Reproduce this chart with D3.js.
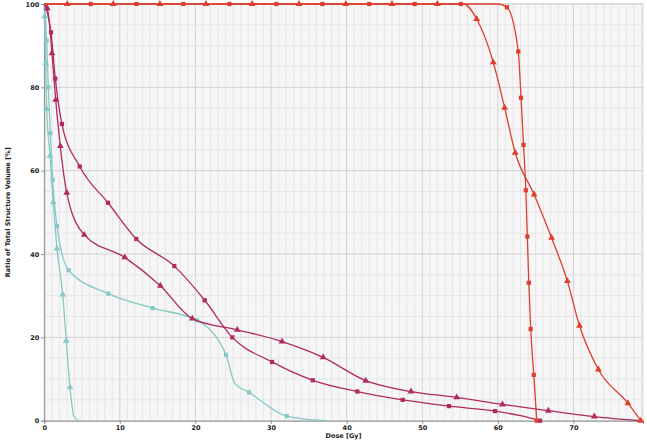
<!DOCTYPE html>
<html>

<head>
    <style>
        body { margin: 0; background: #fff; }
        .tick-label { font-family: "DejaVu Sans"; font-weight: bold; font-size: 6.5px; fill: #222; }
        .axis-title { font-family: "DejaVu Sans"; font-weight: bold; font-size: 6.5px; fill: #222; }
        .curve { fill: none; stroke-width: 1.3; }
    </style>
</head>

<body>
    <svg id="container" height="441" width="647">
        <g id="body"></g>
    </svg>
</body>
<script src="https://d3js.org/d3.v7.min.js"></script>

<script>
    // [dose Gy, volume %, marker drawn? 1/0]
    let redSquares = [
        [0, 100, 0], [6.15, 100, 1], [12.2, 100, 1], [18.4, 100, 1], [24.5, 100, 1], [30.7, 100, 1],
        [36.8, 100, 1], [43.0, 100, 1], [49.0, 100, 1], [55.1, 100, 1], [60.0, 100, 0],
        [61.2, 99.2, 1], [62.7, 88.6, 1], [63.07, 77.5, 1], [63.4, 66.2, 1], [63.7, 55.3, 1],
        [63.9, 44.2, 1], [64.1, 33.1, 1], [64.35, 22.0, 1], [64.75, 11.0, 1], [65.15, 0, 1]
    ];
    let redTriangles = [
        [0, 100, 0], [3.06, 100, 1], [9.14, 100, 1], [15.3, 100, 1], [21.4, 100, 1], [27.5, 100, 1],
        [33.7, 100, 1], [39.9, 100, 1], [46.0, 100, 1], [52.0, 100, 1], [55.5, 100, 0],
        [57.2, 96.4, 1], [59.4, 86.0, 1], [60.9, 75.1, 1], [62.3, 64.3, 1], [64.8, 54.3, 1],
        [67.1, 43.9, 1], [69.2, 33.5, 1], [70.8, 22.8, 1], [73.3, 12.3, 1], [77.2, 4.2, 1], [78.9, 0, 1]
    ];
    let magentaSquares = [
        [0, 100, 0], [0.9, 93.2, 1], [1.47, 82.1, 1], [2.35, 71.2, 1], [4.7, 61.0, 1], [8.44, 52.3, 1],
        [12.18, 43.6, 1], [17.21, 37.1, 1], [21.23, 28.9, 1], [24.88, 20.0, 1], [30.13, 14.1, 1],
        [35.52, 9.7, 1], [41.42, 7.0, 1], [47.42, 5.0, 1], [53.54, 3.5, 1], [59.63, 2.3, 1],
        [63.0, 1.2, 0], [65.58, 0, 1]
    ];
    let magentaTriangles = [
        [0, 100, 0], [0.41, 99.0, 1], [1.03, 88.2, 1], [1.52, 77.0, 1], [2.13, 65.9, 1], [2.98, 54.7, 1],
        [5.3, 44.6, 1], [10.65, 39.2, 1], [15.36, 32.4, 1], [19.59, 24.5, 1], [25.54, 21.8, 1],
        [31.46, 19.0, 1], [36.9, 15.2, 1], [42.53, 9.6, 1], [48.52, 7.0, 1], [54.56, 5.6, 1],
        [60.6, 3.9, 1], [66.68, 2.4, 1], [72.76, 1.0, 1], [78.9, 0, 0]
    ];
    let tealSquares = [
        [0, 100, 0], [0.33, 91.2, 1], [0.54, 80.0, 1], [0.81, 69.0, 1], [1.12, 57.8, 1], [1.69, 46.7, 1],
        [3.24, 36.1, 1], [8.48, 30.5, 1], [14.35, 27.0, 1], [20.17, 24.1, 1], [24.05, 15.8, 1],
        [25.2, 9.0, 0], [27.09, 6.8, 1], [32.08, 1.1, 1], [37.3, 0, 0]
    ];
    let tealTriangles = [
        [0, 100, 0], [0.07, 97.0, 1], [0.2, 85.8, 1], [0.33, 74.8, 1], [0.77, 63.6, 1], [1.2, 52.4, 1],
        [1.69, 41.3, 1], [2.45, 30.3, 1], [2.92, 19.2, 1], [3.41, 8.0, 1], [3.94, 1.0, 0], [4.6, 0, 0]
    ];

    let series = [
        { name: "tealSquares", data: tealSquares, color: "#86c9c5", shape: "square" },
        { name: "tealTriangles", data: tealTriangles, color: "#86c9c5", shape: "triangle" },
        { name: "magentaSquares", data: magentaSquares, color: "#b02a62", shape: "square" },
        { name: "magentaTriangles", data: magentaTriangles, color: "#b02a62", shape: "triangle" },
        { name: "redSquares", data: redSquares, color: "#de3e2e", shape: "square" },
        { name: "redTriangles", data: redTriangles, color: "#de3e2e", shape: "triangle" }
    ];

    let xLabels = [0, 10, 20, 30, 40, 50, 60, 70];
    let yLabels = [0, 20, 40, 60, 80, 100];

    let margin = { top: 4, right: 4, bottom: 20.3, left: 44.2 };
    let width = 647, height = 441;
    let body = d3.select("#body");

    let xScale = d3.scaleLinear().domain([0, 79.2]).range([margin.left, width - margin.right]);
    let yScale = d3.scaleLinear().domain([0, 100]).range([height - margin.bottom, margin.top]);

    // plot background
    body.append("rect")
        .attr("x", xScale(0))
        .attr("y", yScale(100))
        .attr("width", xScale(79.2) - xScale(0))
        .attr("height", yScale(0) - yScale(100))
        .attr("fill", "#f6f6f6")
        .attr("stroke", "#d6d6d6");

    // grid
    let grid = body.append("g");
    grid.selectAll(".vminor")
        .data(d3.range(1, 80))
        .enter()
        .append("line")
            .attr("x1", (d) => xScale(d)).attr("x2", (d) => xScale(d))
            .attr("y1", yScale(0)).attr("y2", yScale(100))
            .attr("stroke", (d) => d % 10 === 0 ? "#d2d2d2" : "#e6e6e6")
            .attr("stroke-width", 1);
    grid.selectAll(".hminor")
        .data(d3.range(5, 101, 5))
        .enter()
        .append("line")
            .attr("x1", xScale(0)).attr("x2", xScale(79.2))
            .attr("y1", (d) => yScale(d)).attr("y2", (d) => yScale(d))
            .attr("stroke", (d) => d % 20 === 0 ? "#d2d2d2" : "#e6e6e6")
            .attr("stroke-width", 1);

    // axes
    let xAxis = d3.axisBottom(xScale).tickValues(xLabels).tickSize(3).tickFormat(d3.format("d"));
    let yAxis = d3.axisLeft(yScale).tickValues(yLabels).tickSize(3).tickFormat(d3.format("d"));
    let gx = body.append("g").attr("transform", `translate(0, ${yScale(0)})`).call(xAxis);
    let gy = body.append("g").attr("transform", `translate(${xScale(0)}, 0)`).call(yAxis);
    [gx, gy].forEach((g) => {
        g.select(".domain").attr("stroke", "#8a8a8a");
        g.selectAll(".tick line").attr("stroke", "#8a8a8a");
        g.selectAll(".tick text").attr("class", "tick-label").attr("font-family", null).attr("font-size", null);
    });
    gx.selectAll(".tick text").attr("y", 5);
    gy.selectAll(".tick text").attr("x", -5).attr("dy", "0.34em");

    body.append("text")
        .attr("class", "axis-title")
        .attr("x", 343.5)
        .attr("y", 437.6)
        .attr("text-anchor", "middle")
        .text("Dose [Gy]");
    body.append("text")
        .attr("class", "axis-title")
        .attr("transform", `translate(9.8, ${(yScale(0) + yScale(100)) / 2}) rotate(-90)`)
        .attr("text-anchor", "middle")
        .text("Ratio of Total Structure Volume [%]");

    // curves
    let line = d3.line()
        .x((d) => xScale(d[0]))
        .y((d) => yScale(d[1]))
        .curve(d3.curveMonotoneX);

    let curves = body.append("g");
    series.forEach((s) => {
        let g = curves.append("g").attr("class", s.name);
        g.append("path")
            .attr("class", "curve")
            .attr("d", line(s.data))
            .attr("stroke", s.color);
        let sym = s.shape === "square"
            ? d3.symbol(d3.symbolSquare).size(18)
            : d3.symbol(d3.symbolTriangle).size(20);
        g.selectAll("path.marker")
            .data(s.data.filter((d) => d[2] === 1))
            .enter()
            .append("path")
                .attr("class", "marker")
                .attr("d", sym)
                .attr("transform", (d) => `translate(${xScale(d[0])}, ${yScale(d[1])})`)
                .attr("fill", s.color);
    });
</script>

</html>
